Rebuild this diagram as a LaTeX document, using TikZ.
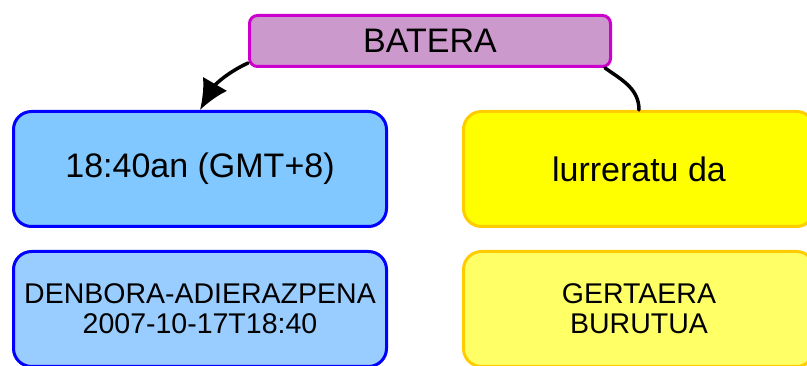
\documentclass[tikz,border=0pt]{standalone}
\usepackage{fontspec}
\setmainfont{Liberation Sans}
\usetikzlibrary{positioning,arrows.meta}

\definecolor{batfill}{HTML}{CC99CC}
\definecolor{batline}{HTML}{CC00CC}
\definecolor{timefill}{HTML}{80C8FF}
\definecolor{timefillb}{HTML}{99CCFF}
\definecolor{timeline}{HTML}{0000FF}
\definecolor{evfill}{HTML}{FFFF00}
\definecolor{evfillb}{HTML}{FFFF66}
\definecolor{evline}{HTML}{FFCC00}

\tikzset{
  box/.style={draw, rounded corners=18pt, line width=3pt, align=center,
    minimum width=373pt, minimum height=115pt, inner sep=0pt},
  big/.style={font=\fontsize{34}{38}\selectfont},
  small/.style={font=\fontsize{28.5}{30}\selectfont},
  timebox/.style={box, draw=timeline, fill=timefill},
  evbox/.style={box, draw=evline, fill=evfill, minimum width=351pt},
  link/.style={line width=3.5pt, line cap=round},
}

\begin{document}
\begin{tikzpicture}
  \useasboundingbox (0pt,0pt) rectangle (807pt,-366pt);

  \node[draw=batline, fill=batfill, line width=3pt, rounded corners=8pt,
        minimum width=361pt, minimum height=51pt, big] (batera) at (430pt,-41pt) {BATERA};

  \node[timebox, big] (tenb) at (200pt,-169pt) {18:40an (GMT+8)};
  \node[evbox, big, right=74pt of tenb] (gert) {lurreratu da};

  \node[timebox, fill=timefillb, small, below=22pt of tenb] (tenbtype)
    {DENBORA-ADIERAZPENA\\2007-10-17T18:40};
  \node[evbox, fill=evfillb, small, below=22pt of gert] (gerttype)
    {GERTAERA\\BURUTUA};

  \draw[link, -{Latex[length=30pt,width=28pt]}]
    ([yshift=5pt]batera.south west) to[out=205, in=60] (tenb.north);
  \draw[link]
    ([xshift=-7pt]batera.south east) to[out=-35, in=90] (gert.north);

\end{tikzpicture}
\end{document}
